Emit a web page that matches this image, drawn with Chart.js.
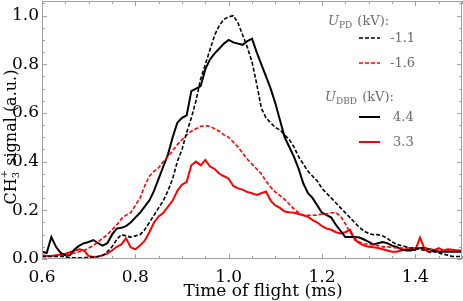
<!DOCTYPE html>
<html>
<head>
<meta charset="utf-8">
<script src="https://cdn.jsdelivr.net/npm/chart.js@4.4.0/dist/chart.umd.min.js"></script>
<style>
  html, body { margin: 0; padding: 0; background: #fff; }
  #wrap { width: 463px; height: 301px; }
</style>
</head>
<body>
<div id="wrap"><canvas id="tof"></canvas></div>
<script>
// time of flight (ms), one sample every 0.01 ms
const times = [
  0.60, 0.61, 0.62, 0.63, 0.64, 0.65, 0.66, 0.67, 0.68, 0.69,
  0.70, 0.71, 0.72, 0.73, 0.74, 0.75, 0.76, 0.77, 0.78, 0.79,
  0.80, 0.81, 0.82, 0.83, 0.84, 0.85, 0.86, 0.87, 0.88, 0.89,
  0.90, 0.91, 0.92, 0.93, 0.94, 0.95, 0.96, 0.97, 0.98, 0.99,
  1.00, 1.01, 1.02, 1.03, 1.04, 1.05, 1.06, 1.07, 1.08, 1.09,
  1.10, 1.11, 1.12, 1.13, 1.14, 1.15, 1.16, 1.17, 1.18, 1.19,
  1.20, 1.21, 1.22, 1.23, 1.24, 1.25, 1.26, 1.27, 1.28, 1.29,
  1.30, 1.31, 1.32, 1.33, 1.34, 1.35, 1.36, 1.37, 1.38, 1.39,
  1.40, 1.41, 1.42, 1.43, 1.44, 1.45, 1.46, 1.47, 1.48, 1.49, 1.50
];

// U_PD = -1.1 kV (black dashed)
const upd11 = [
  0.01, 0.01, 0.01, 0.01, 0.01, 0.01, 0.005, 0.005, 0.005, 0.005,
  0.008, 0.008, 0.01, 0.015, 0.03, 0.05, 0.08, 0.10, 0.095, 0.09,
  0.095, 0.10, 0.12, 0.15, 0.18, 0.21, 0.24, 0.28, 0.33, 0.40,
  0.45, 0.52, 0.58, 0.65, 0.74, 0.80, 0.86, 0.92, 0.96, 0.985,
  0.995, 1.0, 0.97, 0.92, 0.87, 0.81, 0.72, 0.62, 0.58, 0.56,
  0.54, 0.53, 0.51, 0.49, 0.46, 0.42, 0.39, 0.36, 0.34, 0.32,
  0.29, 0.27, 0.25, 0.23, 0.21, 0.19, 0.17, 0.15, 0.13, 0.115,
  0.105, 0.10, 0.10, 0.095, 0.085, 0.07, 0.06, 0.055, 0.05, 0.045,
  0.045, 0.04, 0.035, 0.03, 0.03, 0.025, 0.02, 0.015, 0.01, 0.01, 0.01
];

// U_PD = -1.6 kV (red dashed)
const upd16 = [
  0.01, 0.01, 0.012, 0.012, 0.015, 0.015, 0.02, 0.025, 0.03, 0.035,
  0.045, 0.055, 0.07, 0.085, 0.10, 0.12, 0.14, 0.165, 0.18, 0.19,
  0.22, 0.25, 0.30, 0.34, 0.36, 0.375, 0.40, 0.42, 0.445, 0.47,
  0.49, 0.51, 0.525, 0.535, 0.545, 0.547, 0.545, 0.535, 0.525, 0.51,
  0.50, 0.48, 0.46, 0.435, 0.41, 0.39, 0.37, 0.35, 0.32, 0.295,
  0.275, 0.26, 0.245, 0.225, 0.205, 0.19, 0.18, 0.18, 0.18, 0.18,
  0.185, 0.185, 0.19, 0.19, 0.175, 0.145, 0.11, 0.085, 0.07, 0.063,
  0.06, 0.058, 0.055, 0.05, 0.05, 0.048, 0.045, 0.045, 0.045, 0.045,
  0.045, 0.045, 0.045, 0.04, 0.04, 0.035, 0.035, 0.035, 0.035, 0.035, 0.035
];

// U_DBD = 4.4 kV (black solid)
const udbd44 = [
  0.03, 0.025, 0.09, 0.05, 0.025, 0.015, 0.015, 0.04, 0.055, 0.065,
  0.07, 0.078, 0.065, 0.055, 0.065, 0.10, 0.125, 0.128, 0.135, 0.15,
  0.17, 0.19, 0.215, 0.24, 0.28, 0.33, 0.38, 0.43, 0.50, 0.56,
  0.58, 0.59, 0.69, 0.70, 0.71, 0.78, 0.82, 0.845, 0.865, 0.885,
  0.90, 0.89, 0.885, 0.88, 0.895, 0.905, 0.85, 0.80, 0.75, 0.70,
  0.64, 0.57, 0.50, 0.46, 0.42, 0.37, 0.31, 0.27, 0.25, 0.22,
  0.19, 0.18, 0.17, 0.14, 0.115, 0.09, 0.09, 0.09, 0.088, 0.08,
  0.07, 0.06, 0.065, 0.07, 0.065, 0.055, 0.05, 0.04, 0.035, 0.035,
  0.04, 0.045, 0.045, 0.04, 0.035, 0.03, 0.03, 0.03, 0.03, 0.03, 0.03
];

// U_DBD = 3.3 kV (red solid)
const udbd33 = [
  0.015, 0.012, 0.012, 0.015, 0.018, 0.022, 0.028, 0.035, 0.04, 0.035,
  0.012, 0.008, 0.01, 0.015, 0.022, 0.035, 0.05, 0.06, 0.085, 0.048,
  0.04, 0.055, 0.075, 0.11, 0.15, 0.175, 0.19, 0.215, 0.24, 0.28,
  0.305, 0.317, 0.385, 0.40, 0.385, 0.407, 0.38, 0.37, 0.35, 0.34,
  0.33, 0.30, 0.29, 0.285, 0.275, 0.27, 0.263, 0.27, 0.277, 0.24,
  0.22, 0.21, 0.195, 0.192, 0.19, 0.185, 0.18, 0.173, 0.16, 0.15,
  0.135, 0.125, 0.12, 0.11, 0.105, 0.11, 0.12, 0.08, 0.065, 0.055,
  0.05, 0.048, 0.045, 0.04, 0.035, 0.03, 0.03, 0.035, 0.04, 0.038,
  0.037, 0.088, 0.04, 0.028, 0.035, 0.045, 0.035, 0.04, 0.038, 0.035, 0.035
];

const xTickValues = [0.6, 0.8, 1.0, 1.2, 1.4];
const yTickValues = [0, 0.2, 0.4, 0.6, 0.8, 1.0];
const pdLabels = ["-1.1", "-1.6"];
const dbdLabels = ["4.4", "3.3"];

const SERIF = "'DejaVu Serif', serif";
const LEGEND_GRAY = "#6b6b6b";
const FRAME_GRAY = "#a0a0a0";

function series(values) {
  return values.map((v, i) => ({ x: times[i], y: v }));
}

function lineSet(label, values, color, dashed) {
  return {
    label,
    data: series(values),
    borderColor: color,
    borderWidth: dashed ? 1.6 : 2,
    borderDash: dashed ? [4, 2] : [],
    pointRadius: 0,
    tension: 0,
    fill: false,
  };
}

// italic U with a small lowered subscript, then the rest
function drawSubLabel(ctx, x, y, main, sub, rest) {
  ctx.font = "italic 13px " + SERIF;
  ctx.fillText(main, x, y);
  let w = ctx.measureText(main).width;
  ctx.font = "9px " + SERIF;
  ctx.fillText(sub, x + w, y + 3);
  w += ctx.measureText(sub).width + 1;
  ctx.font = "13px " + SERIF;
  ctx.fillText(rest, x + w, y);
}

function drawSample(ctx, ds, y) {
  ctx.save();
  ctx.strokeStyle = ds.borderColor;
  ctx.lineWidth = ds.borderWidth;
  ctx.setLineDash(ds.borderDash);
  ctx.beginPath();
  ctx.moveTo(359, y);
  ctx.lineTo(380, y);
  ctx.stroke();
  ctx.restore();
}

const framePlugin = {
  id: "frame",
  afterDraw(chart) {
    const { ctx, chartArea: a } = chart;
    const { x, y } = chart.scales;
    ctx.save();

    // box and inward ticks
    ctx.strokeStyle = FRAME_GRAY;
    ctx.lineWidth = 1;
    ctx.strokeRect(a.left + 0.5, a.top + 0.5, a.right - a.left - 1, a.bottom - a.top - 1);
    ctx.beginPath();
    for (let k = 0; k <= 18; k++) {
      const v = 0.6 + k * 0.05;
      const px = Math.round(x.getPixelForValue(v)) + 0.5;
      const len = k % 4 === 0 ? 5 : 3;
      ctx.moveTo(px, a.bottom); ctx.lineTo(px, a.bottom - len);
      ctx.moveTo(px, a.top); ctx.lineTo(px, a.top + len);
    }
    for (let k = 0; k <= 21; k++) {
      const v = k * 0.05;
      const py = Math.round(y.getPixelForValue(v)) + 0.5;
      const len = k % 4 === 0 ? 5 : 3;
      ctx.moveTo(a.left, py); ctx.lineTo(a.left + len, py);
      ctx.moveTo(a.right, py); ctx.lineTo(a.right - len, py);
    }
    ctx.stroke();

    // axis titles
    ctx.fillStyle = "#000";
    ctx.textBaseline = "alphabetic";
    ctx.font = "17px " + SERIF;
    ctx.textAlign = "center";
    ctx.fillText("Time of flight (ms)", 263, 296);

    ctx.save();
    ctx.translate(16, 137);
    ctx.rotate(-Math.PI / 2);
    ctx.textAlign = "left";
    const big = "16px " + SERIF, small = "10px " + SERIF;
    ctx.font = big;
    const wCH = ctx.measureText("CH").width;
    const wRest = ctx.measureText(" signal (a.u.)").width;
    ctx.font = small;
    const wSub = ctx.measureText("3").width + 1;
    const start = -(wCH + wSub + wRest) / 2;
    ctx.font = big;
    ctx.fillText("CH", start, 0);
    ctx.font = small;
    ctx.fillText("3", start + wCH, 3);
    ctx.fillText("+", start + wCH, -9);
    ctx.font = big;
    ctx.fillText(" signal (a.u.)", start + wCH + wSub, 0);
    ctx.restore();

    // legend
    const ds = chart.data.datasets;
    ctx.fillStyle = LEGEND_GRAY;
    ctx.textAlign = "left";
    drawSubLabel(ctx, 328, 25, "U", "PD", " (kV):");
    drawSubLabel(ctx, 325, 101, "U", "DBD", " (kV):");
    ctx.font = "13px " + SERIF;
    ctx.textBaseline = "middle";
    drawSample(ctx, ds[0], 38);
    ctx.fillText(pdLabels[0], 390, 39);
    drawSample(ctx, ds[1], 63);
    ctx.fillText(pdLabels[1], 390, 64);
    drawSample(ctx, ds[2], 117);
    ctx.fillText(dbdLabels[0], 393, 118);
    drawSample(ctx, ds[3], 142);
    ctx.fillText(dbdLabels[1], 393, 143);

    ctx.restore();
  },
};

new Chart(document.getElementById("tof"), {
  type: "line",
  data: {
    datasets: [
      lineSet(pdLabels[0], upd11, "#000000", true),
      lineSet(pdLabels[1], upd16, "#ff0000", true),
      lineSet(dbdLabels[0], udbd44, "#000000", false),
      lineSet(dbdLabels[1], udbd33, "#ff0000", false),
    ],
  },
  options: {
    responsive: true,
    maintainAspectRatio: false,
    animation: false,
    layout: { padding: { top: 1, right: 1, left: 0, bottom: 0 } },
    plugins: { legend: { display: false }, tooltip: { enabled: false } },
    scales: {
      x: {
        type: "linear",
        min: 0.6,
        max: 1.5,
        grid: { display: false, drawTicks: false },
        border: { display: false },
        afterBuildTicks: (s) => { s.ticks = xTickValues.map((v) => ({ value: v })); },
        afterFit: (s) => { s.height = 42; s.paddingLeft = 0; s.paddingRight = 0; },
        ticks: {
          font: { family: SERIF, size: 17 },
          color: "#000",
          padding: 8,
          maxRotation: 0,
          autoSkip: false,
          callback: (v) => Number(v).toFixed(1),
        },
      },
      y: {
        min: 0,
        max: 1.06,
        grid: { display: false, drawTicks: false },
        border: { display: false },
        afterBuildTicks: (s) => { s.ticks = yTickValues.map((v) => ({ value: v })); },
        afterFit: (s) => { s.width = 42; s.paddingTop = 0; s.paddingBottom = 0; },
        ticks: {
          font: { family: SERIF, size: 17 },
          color: "#000",
          padding: 3,
          autoSkip: false,
          callback: (v) => Number(v).toFixed(1),
        },
      },
    },
  },
  plugins: [framePlugin],
});
</script>
</body>
</html>
